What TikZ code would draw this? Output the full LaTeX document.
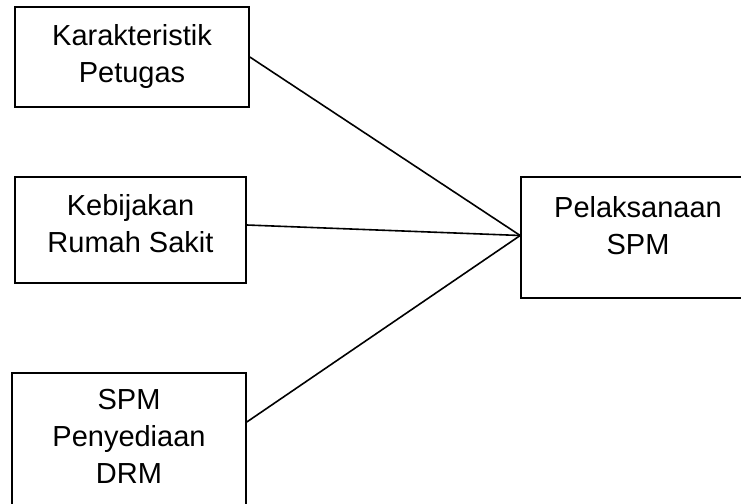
\documentclass[tikz,border=0pt]{standalone}
\usepackage{fontspec}
\setmainfont{Liberation Sans}

\tikzset{
	kotak/.style={draw, line width=1.6pt, align=center, minimum width=234pt, inner sep=0pt,
		font=\fontsize{29}{37}\selectfont},
	garis/.style={line width=1.6pt}
}

\begin{document}
\begin{tikzpicture}[x=1pt,y=-1pt]
\useasboundingbox (0,0) rectangle (741,503);

\node[kotak, minimum height=100pt] (karak) at (132,57) {Karakteristik\\Petugas};
\node[kotak, minimum width=231pt, minimum height=106pt, text depth=14pt] (kebij) at (130.5,230) {Kebijakan\\Rumah Sakit};
\node[kotak, minimum height=140pt, text depth=14pt] (penye) at (129,443) {SPM\\Penyediaan\\DRM};
\node[kotak, minimum height=121pt, text depth=24pt] (pelak) at (638,237.5) {Pelaksanaan\\SPM};

\coordinate (temu) at ([yshift=2pt]pelak.west);

\draw[garis] (karak.east) -- (temu);
\draw[garis] ([yshift=5pt]kebij.east) -- (temu);
\draw[garis] ([yshift=21pt]penye.east) -- (temu);
\end{tikzpicture}
\end{document}
